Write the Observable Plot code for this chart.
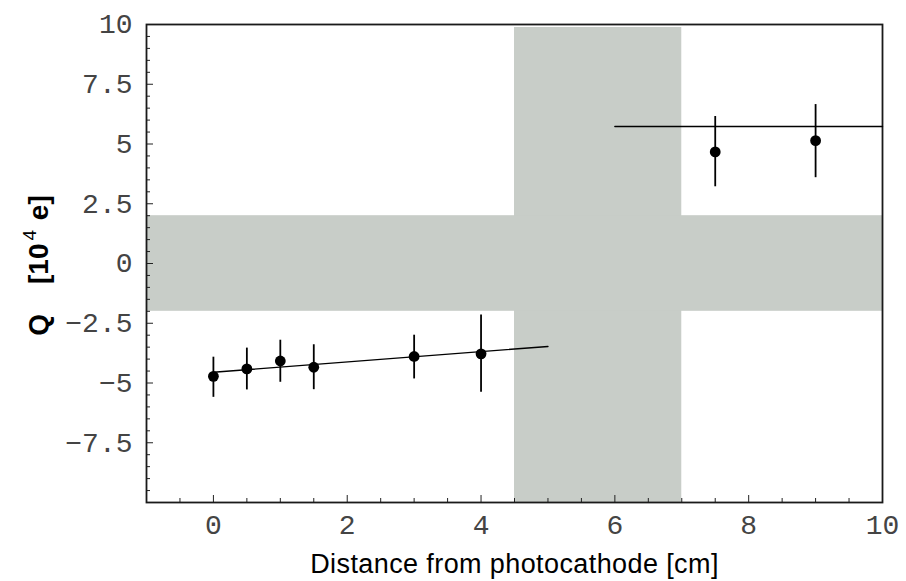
<!DOCTYPE html>
<html>
<head>
<meta charset="utf-8">
<script src="https://cdn.jsdelivr.net/npm/d3@7"></script>
<script src="https://cdn.jsdelivr.net/npm/@observablehq/plot@0.6"></script>
<style>
  html, body { margin: 0; padding: 0; background: white; }
</style>
</head>
<body>
<div id="chart"></div>
<script>
// Measured points: distance [cm], charge Q [10^4 e], error bar ends
const distance = [0, 0.5, 1, 1.5, 3, 4, 7.5, 9];
const charge   = [-4.72, -4.41, -4.08, -4.34, -3.89, -3.78, 4.67, 5.14];
const errLow   = [-5.60, -5.29, -4.97, -5.28, -4.83, -5.39, 3.21, 3.59];
const errHigh  = [-3.92, -3.54, -3.21, -3.40, -3.00, -2.15, 6.15, 6.65];

// Fit lines
const fit1X = [0, 5];
const fit1Y = [-4.55, -3.47];
const fit2X = [6, 10];
const fit2Y = [5.73, 5.73];

// Shaded bands
const vBandX = [4.5, 7];
const hBandY = [-2, 2];

// Tick values
const xMajor = [0, 2, 4, 6, 8, 10];
const xMinor = [-0.5, 0.5, 1, 1.5, 2.5, 3, 3.5, 4.5, 5, 5.5, 6.5, 7, 7.5, 8.5, 9, 9.5];
const yMajor = [-7.5, -5, -2.5, 0, 2.5, 5, 7.5, 10];
const yMinor = [-9.5, -9, -8.5, -8, -7, -6.5, -6, -5.5, -4.5, -4, -3.5, -3, -2, -1.5, -1, -0.5,
                0.5, 1, 1.5, 2, 3, 3.5, 4, 4.5, 5.5, 6, 6.5, 7, 8, 8.5, 9, 9.5];

const xLabel = "Distance from photocathode [cm]";
const yLabel = "Q [10^4 e]";

const points = distance.map((d, i) => ({x: d, q: charge[i], lo: errLow[i], hi: errHigh[i]}));
const fit1 = fit1X.map((x, i) => ({x, y: fit1Y[i]}));
const fit2 = fit2X.map((x, i) => ({x, y: fit2Y[i]}));
const band = "#c8cdc8";
const fmt = d => String(d).replace("-", "\u2212");

const chart = Plot.plot({
  width: 906,
  height: 581,
  marginLeft: 146,
  marginRight: 24,
  marginTop: 24,
  marginBottom: 79,
  x: {domain: [-1, 10]},
  y: {domain: [-10, 10]},
  style: {fontFamily: "'Liberation Mono', 'DejaVu Sans Mono', monospace", fontSize: "28px", color: "#333", background: "white"},
  marks: [
    Plot.rect([{x1: vBandX[0], x2: vBandX[1]}], {x1: "x1", x2: "x2", fill: band, insetTop: 3}),
    Plot.rect([{y1: hBandY[0], y2: hBandY[1]}], {y1: "y1", y2: "y2", fill: band}),
    Plot.axisY(yMinor, {tickSize: -4, tickFormat: () => "", label: null, stroke: "#222"}),
    Plot.axisY(yMajor, {tickSize: -7, tickPadding: 21, tickFormat: fmt, label: null, stroke: "#222", fill: "#444"}),
    Plot.axisX(xMinor, {tickSize: -4, tickFormat: () => "", label: null, stroke: "#222"}),
    Plot.axisX(xMajor, {tickSize: -7, tickPadding: 19, tickFormat: fmt, label: null, stroke: "#222", fill: "#444"}),
    Plot.frame({stroke: "#1a1a1a", strokeWidth: 1.8}),
    Plot.line(fit1, {x: "x", y: "y", stroke: "black", strokeWidth: 1.4}),
    Plot.line(fit2, {x: "x", y: "y", stroke: "black", strokeWidth: 1.4}),
    Plot.ruleX(points, {x: "x", y1: "lo", y2: "hi", stroke: "black", strokeWidth: 1.8}),
    Plot.dot(points, {x: "x", y: "q", r: 5.4, fill: "black", stroke: null}),
    Plot.text([xLabel], {text: d => d, frameAnchor: "bottom", dy: 62, lineAnchor: "middle", textAnchor: "middle",
      fontFamily: "'Liberation Sans', Arial, sans-serif", fontSize: 27, fill: "black"}),
    Plot.text([yLabel], {text: d => d, frameAnchor: "left", dx: -107, dy: 2, rotate: -90, lineAnchor: "middle", textAnchor: "middle",
      fontFamily: "'Liberation Sans', Arial, sans-serif", fontSize: 28, fontWeight: "bold", fill: "black"})
  ]
});

document.getElementById("chart").appendChild(chart);

// Letter spacing for x label, superscript for y label
d3.select(chart).selectAll("text").each(function() {
  const t = d3.select(this);
  if (t.text() === xLabel) {
    t.style("letter-spacing", "0.4px");
  } else if (t.text() === yLabel) {
    t.text("");
    t.append("tspan").text("Q");
    t.append("tspan").attr("dx", 30).text("[10");
    t.append("tspan").attr("dx", 3).attr("dy", -12).attr("font-size", 19).attr("font-weight", "normal").text("4");
    t.append("tspan").attr("dx", 2).attr("dy", 12).text(" e]");
  }
});
</script>
</body>
</html>
